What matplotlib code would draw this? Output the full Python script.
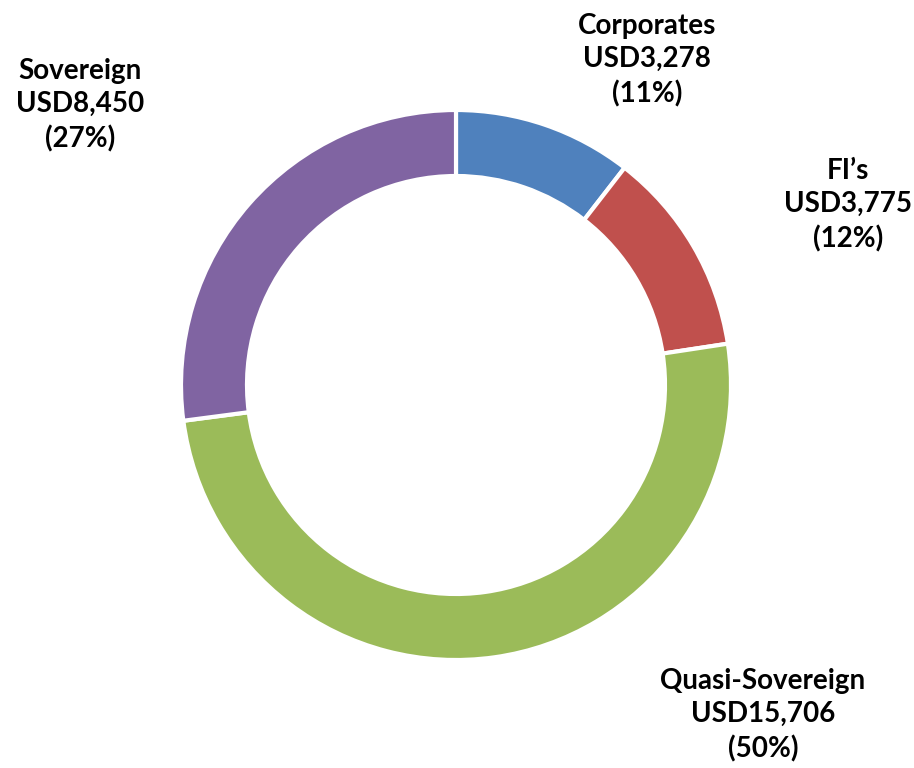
import matplotlib
matplotlib.use("Agg")
import matplotlib.pyplot as plt

categories = ["Corporates", "FI\u2019s", "Quasi-Sovereign", "Sovereign"]
values = [3278, 3775, 15706, 8450]
value_labels = ["USD3,278", "USD3,775", "USD15,706", "USD8,450"]
pct_labels = ["(11%)", "(12%)", "(50%)", "(27%)"]
colors = ["#4F81BD", "#C0504D", "#9BBB59", "#8064A2"]

W, H = 914, 768
fig = plt.figure(figsize=(W / 100, H / 100), dpi=100)
ax = fig.add_axes([0, 0, 1, 1])
ax.set_xlim(0, W)
ax.set_ylim(0, H)
ax.set_aspect("equal")
ax.axis("off")

cx, cy, R = 456, H - 385, 275
ax.pie(values, colors=colors, startangle=90, counterclock=False,
       center=(cx, cy), radius=R, frame=True,
       wedgeprops=dict(width=66, edgecolor="white", linewidth=3))
ax.set_xlim(0, W)
ax.set_ylim(0, H)
ax.axis("off")

label_pos = [(647, 60), (848, 205), (763, 715), (80, 105)]
for (x, y), c, v, p in zip(label_pos, categories, value_labels, pct_labels):
    ax.text(x, H - y, f"{c}\n{v}\n{p}", ha="center", va="center",
            fontsize=20, fontweight="bold", family=["Lato", "DejaVu Sans"],
            linespacing=1.35, color="black")

fig.savefig("out.png", dpi=100)
